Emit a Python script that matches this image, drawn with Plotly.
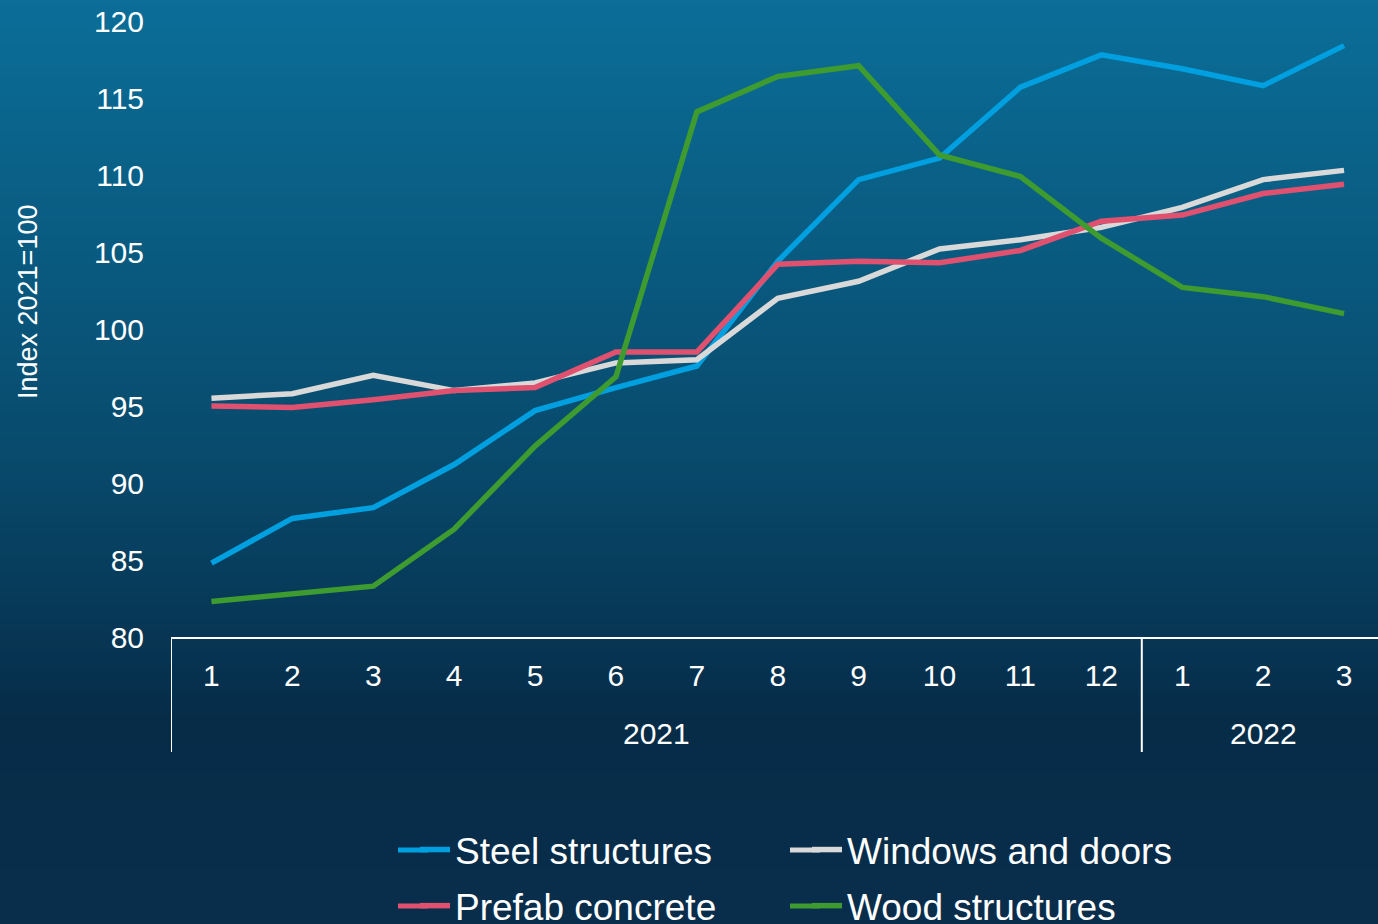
import plotly.graph_objects as go

years = ["2021"] * 12 + ["2022"] * 3
months = ["1", "2", "3", "4", "5", "6", "7", "8", "9", "10", "11", "12", "1", "2", "3"]
year_labels = ["2021", "2022"]

steel = [84.8, 87.7, 88.4, 91.2, 94.7, 96.2, 97.6, 104.4, 109.7, 111.1, 115.7, 117.8, 116.9, 115.8, 118.4]
windows = [95.5, 95.8, 97.0, 96.0, 96.5, 97.8, 98.0, 102.0, 103.1, 105.2, 105.8, 106.6, 107.9, 109.7, 110.3]
prefab = [95.0, 94.9, 95.4, 96.0, 96.2, 98.5, 98.5, 104.2, 104.4, 104.3, 105.1, 107.0, 107.4, 108.8, 109.4]
wood = [82.3, 82.8, 83.3, 87.0, 92.4, 96.9, 114.1, 116.4, 117.1, 111.3, 109.9, 105.9, 102.7, 102.1, 101.0]

W, H = 1378, 924
ML, MR, MT, MB = 171, 0, 21, 287
FONT = "Arial, Liberation Sans, sans-serif"

cats = [f"{y}-{m}" for y, m in zip(years, months)]

fig = go.Figure()
# name, values, colour, legend, group, legend column x (px), legend row y (px)
series = [
    ("Steel structures", steel, "#009fdf", "legend", "g1", 398, 850),
    ("Windows and doors", windows, "#d9d9d9", "legend2", "g2", 790, 850),
    ("Prefab concrete", prefab, "#e0516f", "legend", "g3", 398, 906),
    ("Wood structures", wood, "#3e9b30", "legend2", "g4", 790, 906),
]
for name, vals, col, leg, grp, _, _ in series:
    fig.add_trace(go.Scatter(x=cats, y=vals, mode="lines", name=name,
                             line=dict(color=col, width=5.5),
                             legend=leg, legendgroup=grp))

plot_h = H - MT - MB
plot_w = W - ML - MR
def pix_to_paper(p):
    return (H - MB - p) / plot_h
def pixx_to_paper(p):
    return (p - ML) / plot_w

stops = [(0, (11, 110, 152)), (460, (8, 74, 108)), (720, (6, 44, 72)), (924, (9, 46, 76))]
def col_at(p):
    for (p0, c0), (p1, c1) in zip(stops[:-1], stops[1:]):
        if p0 <= p <= p1:
            t = (p - p0) / (p1 - p0)
            return tuple(round(a + (b - a) * t) for a, b in zip(c0, c1))
    return stops[-1][1]

shapes = []
step = 6
for p in range(0, H + step, step):
    c = col_at(min(p + step / 2, H))
    shapes.append(dict(type="rect", xref="paper", yref="paper", layer="below",
                       x0=-0.2, x1=1.1, y0=pix_to_paper(p + step + 1), y1=pix_to_paper(p),
                       fillcolor="rgb(%d,%d,%d)" % c, line=dict(width=0)))

# group dividers below the axis
n12 = years.count("2021")
for xv in [-0.5, n12 - 0.5, len(cats) - 0.5]:
    shapes.append(dict(type="line", xref="x", yref="paper", x0=xv, x1=xv,
                       y0=pix_to_paper(752), y1=0, line=dict(color="white", width=2)))

# longer legend swatches (extend plotly's fixed 30px line to the left)
for _, _, col, _, _, sx, sy in series:
    shapes.append(dict(type="line", xref="paper", yref="paper",
                       x0=pixx_to_paper(sx), x1=pixx_to_paper(sx + 30),
                       y0=pix_to_paper(sy), y1=pix_to_paper(sy),
                       line=dict(color=col, width=5)))

band = 80.9
xmax = -0.5 + plot_w / band

annotations = [dict(text="Index 2021=100", textangle=-90, xref="paper", yref="paper",
                    x=0, xshift=-(ML - 28), y=pix_to_paper(302), xanchor="center",
                    yanchor="middle", showarrow=False,
                    font=dict(size=27, color="white", family=FONT))]
for yl in year_labels:
    idx = [i for i, y in enumerate(years) if y == yl]
    annotations.append(dict(text=yl, xref="x", yref="paper", x=(idx[0] + idx[-1]) / 2,
                            y=pix_to_paper(733), xanchor="center", yanchor="middle",
                            showarrow=False, font=dict(size=30, color="white", family=FONT)))

fig.update_layout(
    width=W, height=H,
    margin=dict(l=ML, r=MR, t=MT, b=MB, autoexpand=False),
    paper_bgcolor="rgb(8,70,104)",
    plot_bgcolor="rgba(0,0,0,0)",
    font=dict(family=FONT, color="white", size=30),
    shapes=shapes,
    annotations=annotations,
    xaxis=dict(type="category", range=[-0.5, xmax], automargin=False,
               tickvals=cats, ticktext=months,
               showline=True, linecolor="white", linewidth=2,
               showgrid=False, ticks="", zeroline=False, ticklabelstandoff=11,
               tickfont=dict(size=30, color="white")),
    yaxis=dict(range=[80, 120], dtick=5, showgrid=False, zeroline=False, automargin=False,
               showline=False, ticks="", ticklabelstandoff=26,
               tickfont=dict(size=30, color="white")),
    legend=dict(x=(415 - ML) / plot_w, xanchor="left", y=pix_to_paper(819), yanchor="top",
                orientation="v", traceorder="grouped", tracegroupgap=5,
                font=dict(size=37, color="white"), bgcolor="rgba(0,0,0,0)"),
    legend2=dict(x=(807 - ML) / plot_w, xanchor="left", y=pix_to_paper(819), yanchor="top",
                 orientation="v", traceorder="grouped", tracegroupgap=5,
                 font=dict(size=37, color="white"), bgcolor="rgba(0,0,0,0)"),
)

fig.write_html("out.html", config={"displayModeBar": False},
               post_script="document.body.style.margin='0';document.body.style.overflow='hidden';")
